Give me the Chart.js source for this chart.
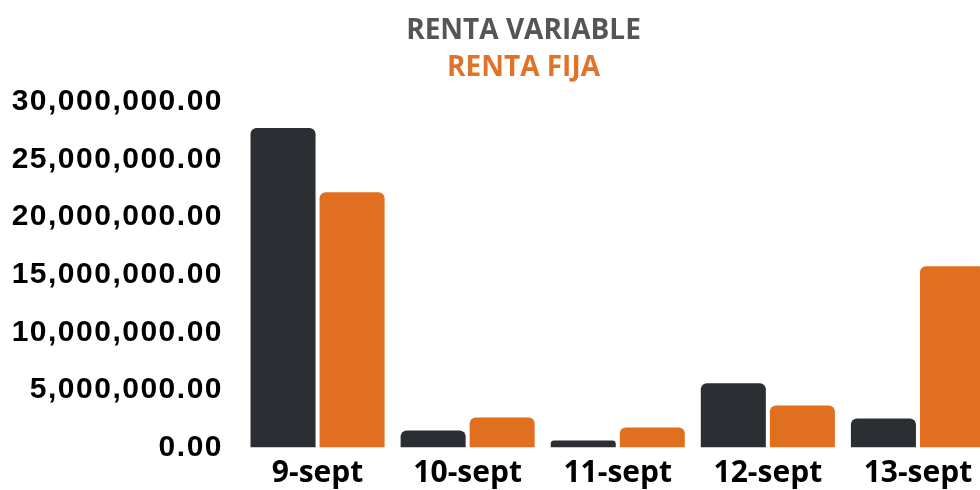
<!DOCTYPE html>
<html>
<head>
<meta charset="utf-8">
<script src="https://cdn.jsdelivr.net/npm/chart.js@4"></script>
<style>
  html, body { margin: 0; padding: 0; background: #fff; overflow: hidden; }
  #wrap { width: 980px; height: 490px; overflow: hidden; position: relative; }
  canvas { position: absolute; left: 0; top: 0; }
</style>
</head>
<body>
<div id="wrap"><canvas id="c" width="1047" height="500"></canvas></div>
<script>
const categories = ['9-sept', '10-sept', '11-sept', '12-sept', '13-sept'];
const rentaVariable = [27750000, 1480000, 600000, 5570000, 2520000];
const rentaFija = [22170000, 2600000, 1740000, 3650000, 15740000];
const yTicks = [0, 5000000, 10000000, 15000000, 20000000, 25000000, 30000000];

function fmt(v) {
  const s = Math.round(v).toString().replace(/\B(?=(\d{3})+(?!\d))/g, ',');
  return s + '.00';
}

const yLetterSpacing = {
  id: 'yLetterSpacing',
  afterLayout(chart) {
    const sc = chart.scales.y;
    if (sc._lsPatched) return;
    const orig = sc.drawLabels.bind(sc);
    sc.drawLabels = function (area) {
      const ctx = this.ctx;
      const prev = ctx.letterSpacing;
      ctx.letterSpacing = '1.5px';
      orig(area);
      ctx.letterSpacing = prev || '0px';
    };
    sc._lsPatched = true;
  }
};

new Chart(document.getElementById('c'), {
  type: 'bar',
  data: {
    labels: categories,
    datasets: [
      { label: 'RENTA VARIABLE', data: rentaVariable, backgroundColor: '#2b2f33',
        borderRadius: 6, borderSkipped: 'bottom', categoryPercentage: 0.92, barPercentage: 0.942 },
      { label: 'RENTA FIJA', data: rentaFija, backgroundColor: '#e07020',
        borderRadius: 6, borderSkipped: 'bottom', categoryPercentage: 0.92, barPercentage: 0.942 }
    ]
  },
  plugins: [yLetterSpacing],
  options: {
    responsive: false,
    animation: false,
    devicePixelRatio: 1,
    layout: { padding: 0 },
    plugins: {
      legend: { display: false },
      tooltip: { enabled: false },
      title: {
        display: true, text: 'RENTA VARIABLE', color: '#555555',
        font: { family: 'Open Sans', weight: '700', size: 28 },
        padding: { top: 14, bottom: 4 }
      },
      subtitle: {
        display: true, text: 'RENTA FIJA', color: '#e07328',
        font: { family: 'Open Sans', weight: '700', size: 28 },
        padding: { top: 0, bottom: 16.8 }
      }
    },
    scales: {
      x: {
        grid: { display: false, drawTicks: false },
        border: { display: false },
        ticks: { color: '#000', font: { family: 'Open Sans', weight: '700', size: 30 }, padding: 8, maxRotation: 0 },
        afterFit: (s) => { s.height = 52.5; }
      },
      y: {
        min: 0, max: 30000000,
        grid: { display: false, drawTicks: false },
        border: { display: false },
        afterBuildTicks: (s) => { s.ticks = yTicks.map(v => ({ value: v })); },
        ticks: { color: '#000', font: { family: 'Liberation Sans', weight: '700', size: 30 }, padding: 19.5,
          callback: (v) => fmt(v) },
        afterFit: (s) => { s.width = 242.5; }
      },
      yRight: {
        position: 'right', min: 0, max: 1,
        grid: { display: false, drawTicks: false },
        border: { display: false },
        ticks: { display: false },
        afterFit: (s) => { s.width = 54; }
      }
    }
  }
});
</script>
</body>
</html>
